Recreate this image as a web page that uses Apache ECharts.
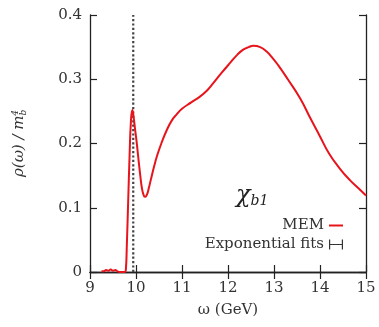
<!DOCTYPE html>
<html><head><meta charset="utf-8">
<script src="https://cdn.jsdelivr.net/npm/echarts@6/dist/echarts.min.js"></script>
<style>html,body{margin:0;padding:0;background:#fff}#c{width:379px;height:327px}</style>
</head><body><div id="c"></div>
<script>
// MEM spectral function
var memOmega = [9.25,9.3,9.35,9.4,9.45,9.5,9.55,9.6,9.65,9.7,9.76,9.78,9.8,9.83,9.86,9.89,9.92,9.95,9.98,10.01,10.05,10.09,10.13,10.17,10.2,10.24,10.28,10.33,10.4,10.45,10.55,10.67,10.78,10.88,11.0,11.2,11.39,11.55,11.68,11.85,12.04,12.2,12.33,12.45,12.55,12.7,12.84,12.97,13.09,13.3,13.57,13.8,14.0,14.2,14.43,14.65,14.87,15.0];
var memRho   = [0.001,0.001,0.003,0.002,0.004,0.002,0.003,0.001,0.0,0.0,0.0,0.004,0.04,0.11,0.18,0.235,0.252,0.24,0.222,0.205,0.178,0.152,0.130,0.119,0.117,0.121,0.131,0.146,0.166,0.179,0.200,0.221,0.236,0.245,0.254,0.264,0.273,0.283,0.294,0.309,0.325,0.338,0.346,0.350,0.352,0.350,0.343,0.333,0.322,0.300,0.270,0.238,0.211,0.184,0.161,0.143,0.128,0.119];
// Exponential fits (vertical band)
var fitOmega = [9.94, 9.94];
var fitRho = [0, 0.4];
var xTicks = [9,10,11,12,13,14,15];
var yTicks = [0,0.1,0.2,0.3,0.4];

var FONT = 'DejaVu Serif';
var chart = echarts.init(document.getElementById('c'));
var memData = memOmega.map(function(w,i){return [w, memRho[i]];});
var fitData = fitOmega.map(function(w,i){return [w, fitRho[i]];});
var ax = {lineStyle:{color:'#222',width:1.3}};
var tk = {show:true,inside:true,length:7,lineStyle:{color:'#222',width:1.2}};
chart.setOption({
  animation:false,
  grid:{left:90,top:15,right:13,bottom:55},
  xAxis:[{type:'value',min:xTicks[0],max:xTicks[xTicks.length-1],interval:1,
    axisLine:ax,axisTick:tk,splitLine:{show:false},
    axisLabel:{margin:9,fontFamily:FONT,fontSize:15,color:'#333'},
    name:'ω (GeV)',nameLocation:'middle',nameGap:31,
    nameTextStyle:{fontFamily:FONT,fontSize:15,color:'#333'}},
   {type:'value',position:'top',min:9,max:15,interval:1,
    axisLine:ax,axisTick:tk,axisLabel:{show:false},splitLine:{show:false}}],
  yAxis:[{type:'value',min:yTicks[0],max:yTicks[yTicks.length-1],interval:0.1,
    axisLine:{show:true,lineStyle:{color:'#222',width:1.3}},
    axisTick:tk,splitLine:{show:false},
    axisLabel:{margin:8,fontFamily:FONT,fontSize:15,color:'#333'},
    name:'ρ(ω) / m{s|b}{p|4}',nameLocation:'middle',nameGap:62,nameRotate:90,
    nameTextStyle:{fontFamily:FONT,fontSize:15,fontStyle:'italic',color:'#333',
      rich:{s:{fontSize:9,fontFamily:FONT,fontStyle:'italic',verticalAlign:'bottom',padding:[8,0,0,0]},
            p:{fontSize:9,fontFamily:FONT,verticalAlign:'top',padding:[0,0,8,-6]}}}},
   {type:'value',position:'right',min:0,max:0.4,interval:0.1,
    axisLine:{show:true,lineStyle:{color:'#222',width:1.3}},
    axisTick:tk,axisLabel:{show:false},splitLine:{show:false}}],
  legend:{orient:'vertical',align:'right',right:31,top:213,itemGap:4,
    itemWidth:14,itemHeight:10,
    textStyle:{fontFamily:FONT,fontSize:15,color:'#333'},
    data:[{name:'MEM',icon:'path://M0,4 L14,4 L14,6 L0,6 Z',itemStyle:{color:'#e8141c'}},
          {name:'Exponential fits',icon:'path://M0,0 L1.2,0 L1.2,4.4 L12.8,4.4 L12.8,0 L14,0 L14,10 L12.8,10 L12.8,5.6 L1.2,5.6 L1.2,10 L0,10 Z',itemStyle:{color:'#333'}}]},
  graphic:[{type:'text',left:236,top:184,style:{
    text:'{c|χ}{b|b1}',rich:{c:{fontFamily:FONT,fontSize:24,fontStyle:'italic',fill:'#222'},
      b:{fontFamily:FONT,fontSize:14,fontStyle:'italic',fill:'#222',padding:[10,0,0,0]}}}}],
  series:[
    {name:'Exponential fits',type:'line',data:fitData,symbol:'none',
     lineStyle:{color:'#444',width:2.2,type:'dotted'},itemStyle:{color:'#333'}},
    {name:'MEM',type:'line',data:memData,symbol:'none',smooth:0.5,
     lineStyle:{color:'#e8141c',width:2},itemStyle:{color:'#e8141c'}}
  ]
});
</script></body></html>
